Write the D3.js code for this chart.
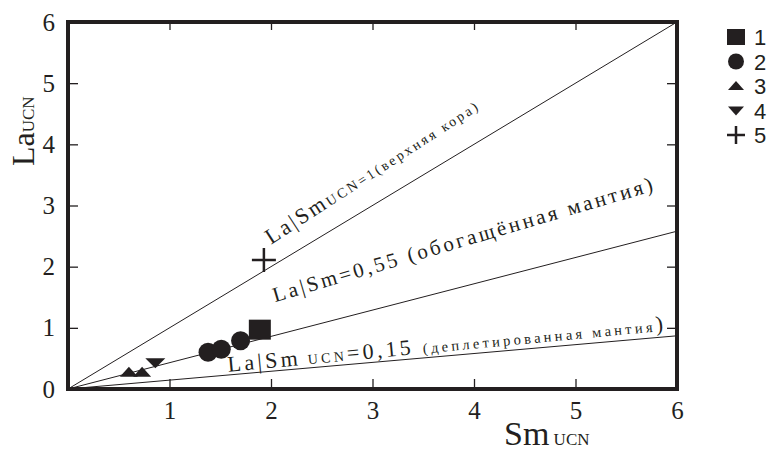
<!DOCTYPE html>
<html><head><meta charset="utf-8">
<script src="https://cdn.jsdelivr.net/npm/d3@7"></script>
<style>
html,body{margin:0;padding:0;background:#fff;}
svg{display:block;}
</style></head>
<body>
<svg id="chart" width="782" height="453"></svg>
<script>
// ---- data ----
const xTicks = [1, 2, 3, 4, 5, 6];
const yTicks = [0, 1, 2, 3, 4, 5, 6];
const legendLabels = ["1", "2", "3", "4", "5"];
const series1 = [[1.89, 0.97]];                          // square
const series2 = [[1.38, 0.60], [1.51, 0.65], [1.70, 0.79]]; // circles
const series3 = [[0.60, 0.28], [0.73, 0.28]];            // triangles up
const series4 = [[0.86, 0.42]];                          // triangle down
const series5 = [[1.93, 2.11]];                          // cross
const refLineEnds = [[6, 6], [6, 2.58], [6, 0.87]];      // lines from origin
const refLabelAnchors = [[2.0, 2.36], [2.04, 1.42], [1.58, 0.28]];

// ---- layout ----
const svg = d3.select("#chart");
const L = 68, R = 677, T = 22, B = 389;
const x = d3.scaleLinear().domain([0, 6]).range([L, R]);
const y = d3.scaleLinear().domain([0, 6]).range([B, T]);
const ink = "#231f20";
const serif = "'Liberation Serif', 'Times New Roman', serif";
const sans = "'Liberation Sans', Arial, sans-serif";

// reference lines
svg.append("g").selectAll("line").data(refLineEnds).join("line")
  .attr("x1", x(0)).attr("y1", y(0))
  .attr("x2", d => x(d[0])).attr("y2", d => y(d[1]))
  .attr("stroke", ink).attr("stroke-width", 1);

// axes (inward ticks)
function styleAxis(g) {
  g.style("font-family", serif).style("font-size", "25px");
  g.select(".domain").remove();
  g.selectAll(".tick line").attr("stroke", ink).attr("stroke-width", 1.3);
  g.selectAll(".tick text").style("font-family", serif).style("font-size", "25px").attr("fill", ink);
}
svg.append("g").attr("transform", `translate(0,${B})`)
  .call(d3.axisBottom(x).tickValues(xTicks).tickSize(-10).tickPadding(12).tickFormat(d3.format("d")))
  .call(styleAxis);
svg.append("g").attr("transform", `translate(${L},0)`)
  .call(d3.axisLeft(y).tickValues(yTicks).tickSize(-10).tickPadding(13).tickFormat(d3.format("d")))
  .call(styleAxis);
svg.append("g").attr("transform", `translate(0,${T})`)
  .call(d3.axisTop(x).tickValues(xTicks).tickSize(-8).tickFormat(""))
  .call(styleAxis);
svg.append("g").attr("transform", `translate(${R},0)`)
  .call(d3.axisRight(y).tickValues(yTicks.slice(1, 6)).tickSize(-10).tickFormat(""))
  .call(styleAxis);

// frame
svg.append("rect").attr("x", L).attr("y", T).attr("width", R - L).attr("height", B - T)
  .attr("fill", "none").attr("stroke", ink).attr("stroke-width", 4);

// markers
const triUp = "M-9,5L0,-5L9,5Z";
const triDown = "M-10,-5L10,-5L0,5Z";
const mk = svg.append("g").attr("fill", ink);
mk.selectAll(".s1").data(series1).join("rect").attr("class", "s1")
  .attr("x", d => x(d[0]) - 11).attr("y", d => y(d[1]) - 10)
  .attr("width", 22).attr("height", 20);
mk.selectAll(".s2").data(series2).join("circle").attr("class", "s2")
  .attr("cx", d => x(d[0])).attr("cy", d => y(d[1])).attr("r", 9.5);
mk.selectAll(".s3").data(series3).join("path").attr("class", "s3")
  .attr("d", triUp).attr("transform", d => `translate(${x(d[0])},${y(d[1])})`);
mk.selectAll(".s4").data(series4).join("path").attr("class", "s4")
  .attr("d", triDown).attr("transform", d => `translate(${x(d[0])},${y(d[1])})`);
mk.selectAll(".s5").data(series5).join("path").attr("class", "s5")
  .attr("d", "M-12,0H12M0,-12V12").attr("fill", "none").attr("stroke", ink).attr("stroke-width", 2.5)
  .attr("transform", d => `translate(${x(d[0])},${y(d[1])})`);

// line labels
function lineLabel(anchor, angle, len, parts) {
  const t = svg.append("text")
    .attr("transform", `translate(${x(anchor[0])},${y(anchor[1])}) rotate(${angle})`)
    .style("font-family", serif).attr("fill", ink)
    .attr("textLength", len).attr("lengthAdjust", "spacing");
  parts.forEach(p => t.append("tspan").style("font-size", p[1] + "px").text(p[0]));
}
lineLabel(refLabelAnchors[0], -33, 248, [["La|Sm", 22], ["UCN=1(верхняя кора)", 14]]);
lineLabel(refLabelAnchors[1], -16.4, 395, [["La|Sm=0,55 (обогащённая мантия)", 21]]);
lineLabel(refLabelAnchors[2], -5.4, 437,
  [["La|Sm", 22], [" UCN", 14], ["=0,15 ", 22], ["(деплетированная мантия", 14.5], [")", 22]]);

// axis titles
const xt = svg.append("text").attr("x", 504).attr("y", 445)
  .style("font-family", serif).attr("fill", ink);
xt.append("tspan").style("font-size", "34px").text("Sm");
xt.append("tspan").style("font-size", "17px").text(" UCN");
const yt = svg.append("text").attr("transform", "translate(34,166) rotate(-90)")
  .style("font-family", serif).attr("fill", ink);
yt.append("tspan").style("font-size", "32px").text("La");
yt.append("tspan").style("font-size", "17px").text("UCN");

// legend
const lg = svg.append("g").attr("transform", "translate(736,37)");
const rowH = 24.5;
const legendShapes = [
  g => g.append("rect").attr("x", -9).attr("y", -8).attr("width", 18).attr("height", 16).attr("fill", ink),
  g => g.append("circle").attr("r", 8).attr("fill", ink),
  g => g.append("path").attr("d", "M-8,4L0,-5L8,4Z").attr("fill", ink),
  g => g.append("path").attr("d", "M-8,-4L8,-4L0,5Z").attr("fill", ink),
  g => g.append("path").attr("d", "M-9,0H9M0,-9V9").attr("stroke", ink).attr("stroke-width", 2.5)
];
legendLabels.forEach((lab, i) => {
  const g = lg.append("g").attr("transform", `translate(0,${i * rowH})`);
  legendShapes[i](g);
  g.append("text").attr("x", 18).attr("y", 8).style("font-family", sans)
    .style("font-size", "22px").attr("fill", ink).text(lab);
});
</script>
</body></html>
